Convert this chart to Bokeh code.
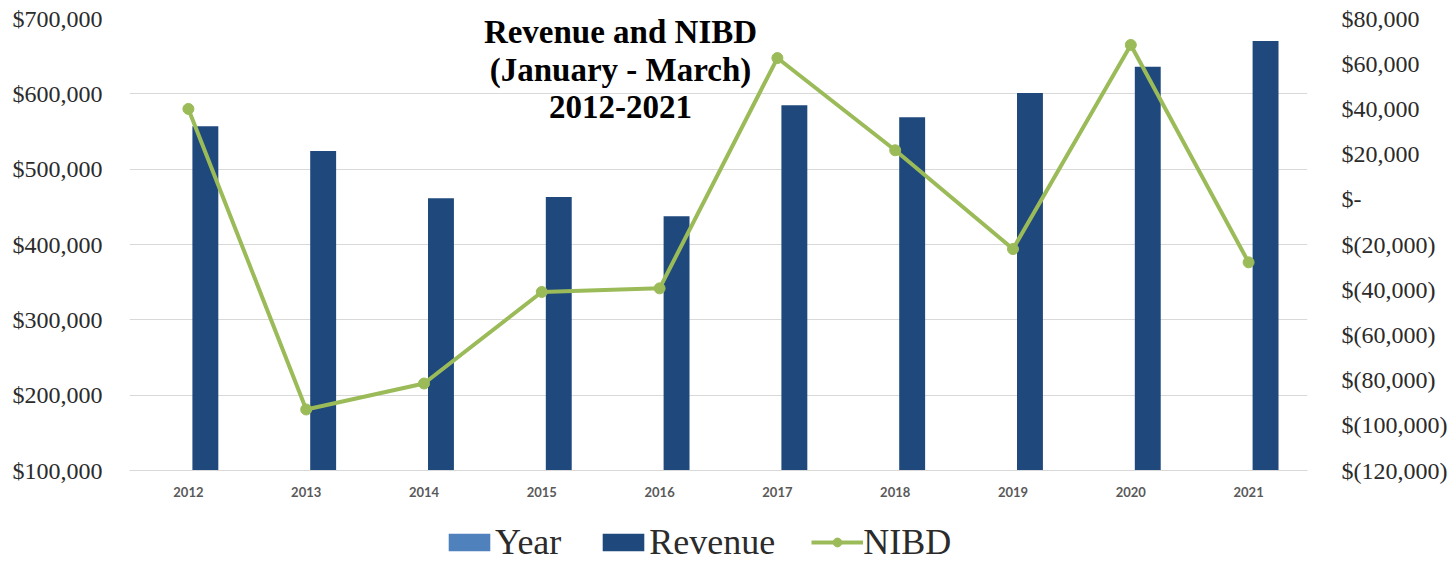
from bokeh.plotting import figure
from bokeh.layouts import column
from bokeh.models import (FactorRange, Range1d, LinearAxis, FixedTicker, Legend,
                          LegendItem, Label, ColumnDataSource)
from bokeh.transform import dodge
from bokeh.embed import file_html
from bokeh.resources import INLINE

# ---- data ----
years = ["2012", "2013", "2014", "2015", "2016", "2017", "2018", "2019", "2020", "2021"]
year_values = [2012, 2013, 2014, 2015, 2016, 2017, 2018, 2019, 2020, 2021]
revenue = [557000, 524000, 461500, 463000, 437500, 585000, 569000, 601000, 636000, 670000]
nibd = [40000, -93000, -81500, -41000, -39400, 62500, 21700, -22000, 68300, -27900]

left_ticks = [100000, 200000, 300000, 400000, 500000, 600000, 700000]
left_labels = ["$100,000", "$200,000", "$300,000", "$400,000", "$500,000", "$600,000", "$700,000"]
right_ticks = [-120000, -100000, -80000, -60000, -40000, -20000, 0, 20000, 40000, 60000, 80000]
right_labels = ["$(120,000)", "$(100,000)", "$(80,000)", "$(60,000)", "$(40,000)", "$(20,000)",
                "$-", "$20,000", "$40,000", "$60,000", "$80,000"]
title_lines = ["Revenue and NIBD", "(January - March)", "2012-2021"]
title_y = [682000, 631500, 582500]
series_names = ["Year", "Revenue", "NIBD"]

source = ColumnDataSource(dict(years=years, year_values=year_values, revenue=revenue, nibd=nibd))

GRID = "#D9D9D9"
TXT = "#2B2B2B"
C_YEAR = "#4F81BD"
C_REV = "#1F487C"
C_NIBD = "#9BBB59"

p = figure(x_range=FactorRange(factors=years, range_padding=0),
           y_range=Range1d(100000, 700000),
           width=1451, height=502,
           min_border_left=129, min_border_right=144, min_border_top=18, min_border_bottom=32,
           output_backend="svg", toolbar_location=None)
p.outline_line_color = None
p.extra_y_ranges = {"nibd": Range1d(-120000, 80000)}

p.vbar(x=dodge("years", -0.07, range=p.x_range), top="year_values", width=0.22,
       source=source, fill_color=C_YEAR, line_color=None)
p.vbar(x=dodge("years", 0.144, range=p.x_range), top="revenue", width=0.22,
       source=source, fill_color=C_REV, line_color=None)
p.line(x="years", y="nibd", source=source, y_range_name="nibd",
       line_color=C_NIBD, line_width=4)
p.scatter(x="years", y="nibd", source=source, y_range_name="nibd",
          marker="circle", size=11, fill_color=C_NIBD, line_color=C_NIBD)

# axes
p.yaxis.ticker = FixedTicker(ticks=left_ticks)
p.yaxis.major_label_overrides = dict(zip(left_ticks, left_labels))
p.yaxis.axis_line_color = None
p.yaxis.major_tick_line_color = None
p.yaxis.minor_tick_line_color = None
p.yaxis.major_label_standoff = 21
p.yaxis.major_label_text_font = "Liberation Serif"
p.yaxis.major_label_text_font_size = "24px"
p.yaxis.major_label_text_color = TXT

raxis = LinearAxis(y_range_name="nibd", ticker=FixedTicker(ticks=right_ticks),
                   major_label_overrides=dict(zip(right_ticks, right_labels)))
raxis.axis_line_color = None
raxis.major_tick_line_color = None
raxis.minor_tick_line_color = None
raxis.major_label_standoff = 28
raxis.major_label_text_font = "Liberation Serif"
raxis.major_label_text_font_size = "24px"
raxis.major_label_text_color = TXT
p.add_layout(raxis, "right")

p.xaxis.axis_line_color = GRID
p.xaxis.major_tick_line_color = None
p.xaxis.minor_tick_line_color = None
p.xaxis.major_tick_out = 0
p.xaxis.major_label_standoff = 16
p.xaxis.major_label_text_font = "Lato"
p.xaxis.major_label_text_font_style = "bold"
p.xaxis.major_label_text_font_size = "13px"
p.xaxis.major_label_text_color = "#595959"

p.xgrid.grid_line_color = None
p.ygrid.grid_line_color = GRID
p.ygrid.grid_line_width = 1

# title lines drawn over the plot
for t, yv in zip(title_lines, title_y):
    p.add_layout(Label(x=4.168, y=yv, text=t, text_align="center", text_baseline="middle",
                       text_font="Liberation Serif", text_font_style="bold",
                       text_font_size="33px", text_color="#000000"))

# ---- legend strip (separate figure below the chart; its frame aligns with the chart's) ----
lg = figure(width=1451, height=62, x_range=Range1d(0, 1), y_range=Range1d(0, 1),
            min_border_left=0, min_border_right=0, min_border_top=0, min_border_bottom=0,
            x_axis_location=None, y_axis_location=None,
            output_backend="svg", toolbar_location=None)
lg.outline_line_color = None
lg.xgrid.visible = False
lg.ygrid.visible = False
# key glyphs: one off-screen sample each, only used for the legend swatches
k_year = lg.vbar(x=[-5], top=[-5], width=0.1, fill_color=C_YEAR, line_color=None)
k_rev = lg.vbar(x=[-5], top=[-5], width=0.1, fill_color=C_REV, line_color=None)
k_line = lg.line(x=[-6, -5], y=[-5, -5], line_color=C_NIBD, line_width=4)
k_pts = lg.scatter(x=[-5], y=[-5], marker="circle", size=11, fill_color=C_NIBD, line_color=C_NIBD)

legend = Legend(items=[LegendItem(label=series_names[0], renderers=[k_year]),
                       LegendItem(label=series_names[1], renderers=[k_rev]),
                       LegendItem(label=series_names[2], renderers=[k_line, k_pts])],
                orientation="horizontal", location=(314, 1),
                padding=0, margin=0, spacing=36, label_standoff=0,
                glyph_width=52, glyph_height=22,
                label_text_font="Liberation Serif", label_text_font_size="36px",
                label_text_color=TXT,
                background_fill_alpha=0, border_line_alpha=0)
lg.add_layout(legend)

layout = column(p, lg, spacing=0)
open("out.html", "w").write(file_html(layout, INLINE))
